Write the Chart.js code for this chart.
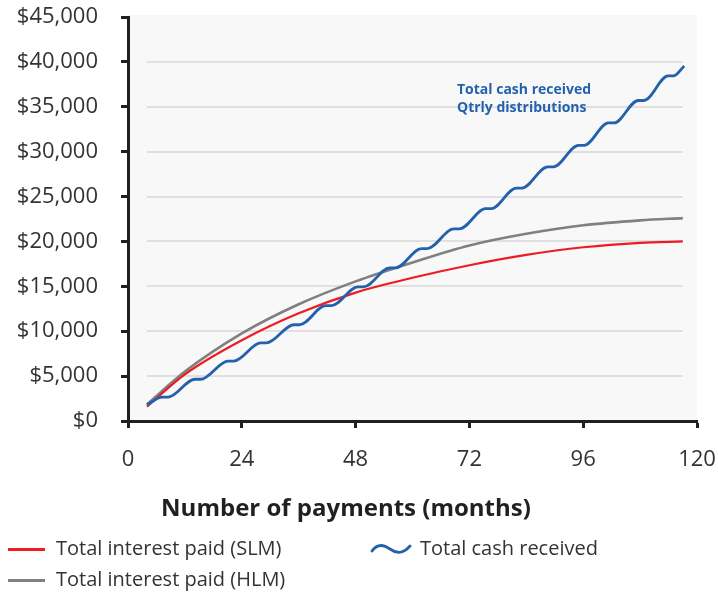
<!DOCTYPE html>
<html>
<head>
<meta charset="utf-8">
<script src="https://cdn.jsdelivr.net/npm/chart.js@4.4.1/dist/chart.umd.min.js"></script>
<style>
  body { margin: 0; background: #fff; font-family: "Open Sans", sans-serif; }
  #wrap { position: relative; width: 718px; height: 594px; }
  #chart { position: absolute; left: 0; top: 0; }
  .x-title { position: absolute; left: 0; width: 692px; top: 495px; text-align: center;
             font-weight: 700; font-size: 24px; line-height: 24px; color: #231f20; }
  .legend-text { position: absolute; font-size: 20px; line-height: 20px; color: #333; white-space: nowrap; }
  .legend-line { position: absolute; width: 37px; height: 3px; }
</style>
</head>
<body>
<div id="wrap">
  <canvas id="chart" width="718" height="594"></canvas>
  <div class="x-title">Number of payments (months)</div>

  <div class="legend-line" style="left:8px; top:548px; background:#ed1c24;"></div>
  <div class="legend-text" style="left:56px; top:538px;">Total interest paid (SLM)</div>

  <svg style="position:absolute; left:370px; top:542px;" width="42" height="14">
    <path d="M2 9 C 7 2, 13 2, 20 7 S 33 12, 40 4" fill="none" stroke="#2461ad" stroke-width="2.8" stroke-linecap="round"/>
  </svg>
  <div class="legend-text" style="left:420px; top:538px;">Total cash received</div>

  <div class="legend-line" style="left:8px; top:579px; background:#808080;"></div>
  <div class="legend-text" style="left:56px; top:569px;">Total interest paid (HLM)</div>
</div>

<script>
// === DATA ===
const xTicks = [0, 24, 48, 72, 96, 120];
const yTicks = [0, 5000, 10000, 15000, 20000, 25000, 30000, 35000, 40000, 45000];

// cumulative interest, months 4..117
const interestMonths = [4, 12, 24, 36, 48, 60, 72, 84, 96, 108, 117];
const interestSLM = [1600, 5200, 9000, 12000, 14300, 15950, 17350, 18500, 19350, 19850, 20000];
const interestHLM = [1850, 5500, 9750, 13000, 15550, 17650, 19550, 20850, 21800, 22350, 22600];

// total cash received: levels off between quarterly payouts, then steps up
const cashMonths = [4.0,
  7.2, 8.4, 14.1, 15.3, 21.1, 22.3, 28.0, 29.2, 35.0, 36.2,
  41.7, 42.9, 48.5, 49.7, 55.2, 56.4, 61.9, 63.1, 68.7, 69.9,
  75.4, 76.6, 81.9, 83.1, 88.5, 89.7, 95.0, 96.2, 101.3, 102.5,
  107.6, 108.8, 113.9, 115.1, 117.3];
const cashValues = [1800,
  2650, 2650, 4650, 4650, 6680, 6680, 8700, 8700, 10720, 10720,
  12850, 12850, 14950, 14950, 17050, 17050, 19200, 19200, 21400, 21400,
  23650, 23650, 25950, 25950, 28300, 28300, 30700, 30700, 33200, 33200,
  35700, 35700, 38450, 38450, 39550];

const noteLines = ["Total cash received", "Qtrly distributions"];

const toPoints = (xs, ys) => xs.map((x, i) => ({ x: x, y: ys[i] }));

// === PLOT BACKGROUND, GRID, NOTE ===
const plotDecor = {
  id: "plotDecor",
  beforeDraw(chart) {
    const { ctx, chartArea: a, scales } = chart;
    ctx.save();
    ctx.fillStyle = "#f8f8f8";
    ctx.fillRect(a.left, a.top - 2, a.right - a.left, a.bottom - a.top + 2);

    // grid lines only run across the data range
    const x0 = scales.x.getPixelForValue(interestMonths[0]);
    const x1 = scales.x.getPixelForValue(interestMonths[interestMonths.length - 1]);
    ctx.strokeStyle = "#e0e0e0";
    ctx.lineWidth = 2;
    yTicks.slice(1, -1).forEach((v) => {
      const y = Math.round(scales.y.getPixelForValue(v));
      ctx.beginPath();
      ctx.moveTo(x0, y);
      ctx.lineTo(x1, y);
      ctx.stroke();
    });
    ctx.restore();
  },
  afterDatasetsDraw(chart) {
    const ctx = chart.ctx;
    ctx.save();
    ctx.font = 'bold 14px "Open Sans"';
    ctx.fillStyle = "#2461ad";
    ctx.textBaseline = "alphabetic";
    noteLines.forEach((t, i) => ctx.fillText(t, 457, 94 + i * 18));
    ctx.restore();
  },
};

const axisColor = "#231f20";
const tickFont = { family: "Open Sans", size: 22 };

new Chart(document.getElementById("chart"), {
  type: "line",
  data: {
    datasets: [
      { label: "Total cash received", data: toPoints(cashMonths, cashValues),
        borderColor: "#2461ad", borderWidth: 2.8, cubicInterpolationMode: "monotone" },
      { label: "Total interest paid (SLM)", data: toPoints(interestMonths, interestSLM),
        borderColor: "#ed1c24", borderWidth: 2.2, cubicInterpolationMode: "monotone" },
      { label: "Total interest paid (HLM)", data: toPoints(interestMonths, interestHLM),
        borderColor: "#808080", borderWidth: 2.6, cubicInterpolationMode: "monotone" },
    ],
  },
  options: {
    responsive: false,
    animation: false,
    devicePixelRatio: 1,
    layout: { padding: { top: 17, right: 21, bottom: 113, left: 0 } },
    elements: { point: { radius: 0 } },
    plugins: { legend: { display: false }, tooltip: { enabled: false } },
    scales: {
      x: {
        type: "linear",
        min: 0,
        max: 120,
        afterBuildTicks: (s) => { s.ticks = xTicks.map((v) => ({ value: v })); },
        afterFit: (s) => { s.height = 60; s.paddingLeft = 0; s.paddingRight = 0; },
        ticks: { font: tickFont, color: "#333", padding: 19, maxRotation: 0 },
        grid: { drawOnChartArea: false, tickLength: 7, tickWidth: 3, tickColor: axisColor },
        border: { color: axisColor, width: 3 },
      },
      y: {
        min: 0,
        max: 45000,
        afterBuildTicks: (s) => { s.ticks = yTicks.map((v) => ({ value: v })); },
        afterFit: (s) => { s.width = 128; s.paddingTop = 0; s.paddingBottom = 0; },
        ticks: {
          font: tickFont,
          color: "#333",
          padding: 23,
          callback: (v) => "$" + v.toLocaleString("en-US"),
        },
        grid: { drawOnChartArea: false, tickLength: 7, tickWidth: 3, tickColor: axisColor },
        border: { color: axisColor, width: 3 },
      },
    },
  },
  plugins: [plotDecor],
});
</script>
</body>
</html>
